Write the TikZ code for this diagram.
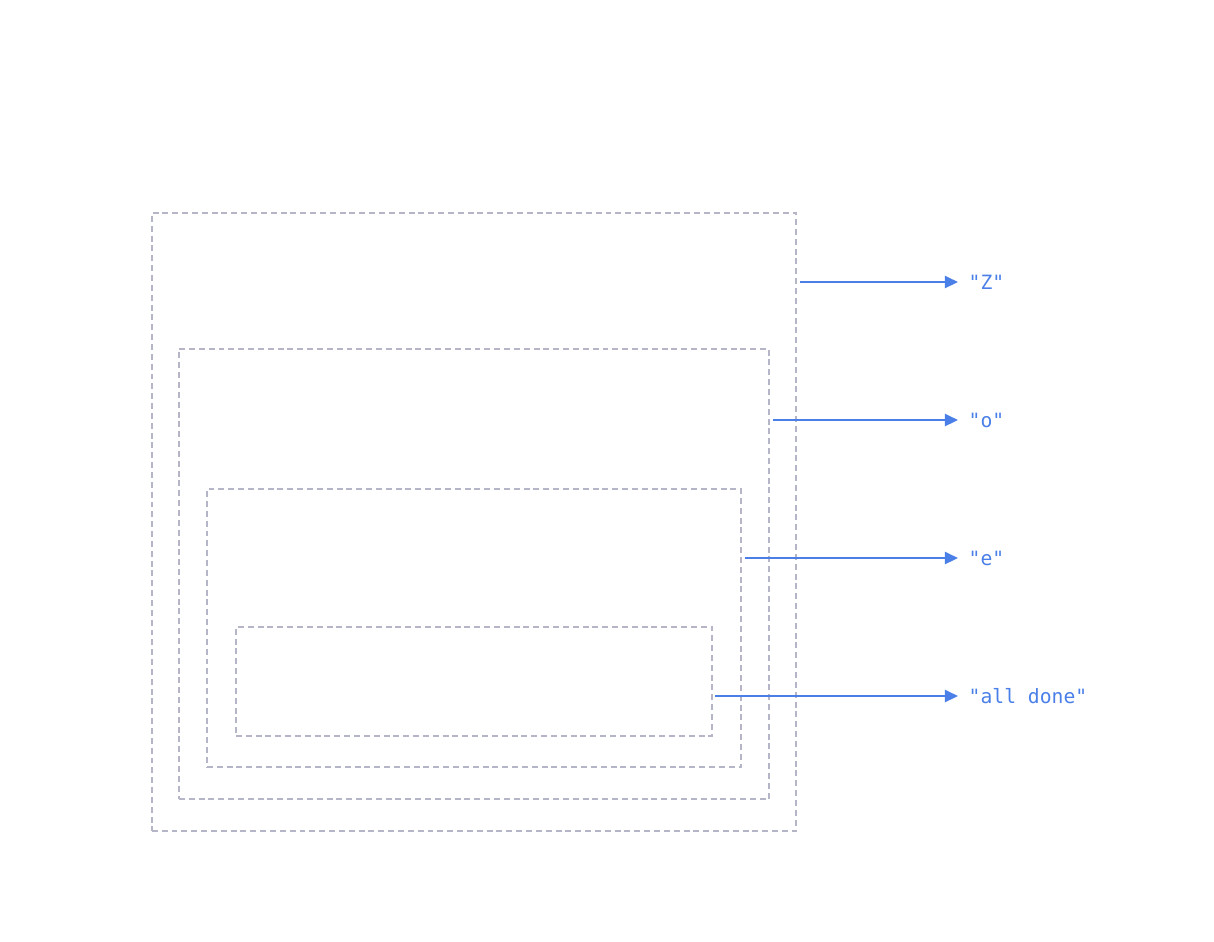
\documentclass[tikz,border=0pt]{standalone}
\usepackage{fontspec}
\setmonofont{DejaVu Sans Mono}
\usepackage{tikz}
\usetikzlibrary{arrows.meta}
\definecolor{framegray}{RGB}{180,182,200}
\definecolor{flowblue}{RGB}{74,127,232}
\tikzset{
  frame/.style={
    rectangle,
    draw=framegray,
    line width=0.4pt,
    dash pattern=on 1.7pt off 1.1pt,
    inner sep=0pt},
  result/.style={
    anchor=west,
    inner sep=0.1cm,
    text=flowblue},
  flow/.style={
    draw=flowblue,
    line width=0.6pt,
    -{Triangle[length=0.13cm,width=0.12cm]}}
}
\begin{document}
\begin{tikzpicture}[x=0.01cm, y=-0.01cm, font=\ttfamily\fontsize{5.6}{7}\selectfont]
  \useasboundingbox (0,0) rectangle (1214,941);

  % nested frames
  \node (frameZ) [frame, minimum width=6.44cm, minimum height=6.18cm] at (474,522) {};
  \node (frameO) [frame, minimum width=5.90cm, minimum height=4.50cm] at (474,574) {};
  \node (frameE) [frame, minimum width=5.34cm, minimum height=2.78cm] at (474,628) {};
  \node (frameDone) [frame, minimum width=4.76cm, minimum height=1.09cm] at (474,681.5) {};

  % results
  \node (labelZ) [result] at (958,282) {"Z"};
  \node (labelO) [result] at (958,420) {"o"};
  \node (labelE) [result] at (958,558) {"e"};
  \node (labelDone) [result] at (958,696) {"all done"};

  % arrows
  \draw[flow] (frameZ.east |- labelZ.west) ++(3,0) -- (labelZ.west);
  \draw[flow] (frameO.east |- labelO.west) ++(3,0) -- (labelO.west);
  \draw[flow] (frameE.east |- labelE.west) ++(3,0) -- (labelE.west);
  \draw[flow] (frameDone.east |- labelDone.west) ++(2,0) -- (labelDone.west);
\end{tikzpicture}
\end{document}
